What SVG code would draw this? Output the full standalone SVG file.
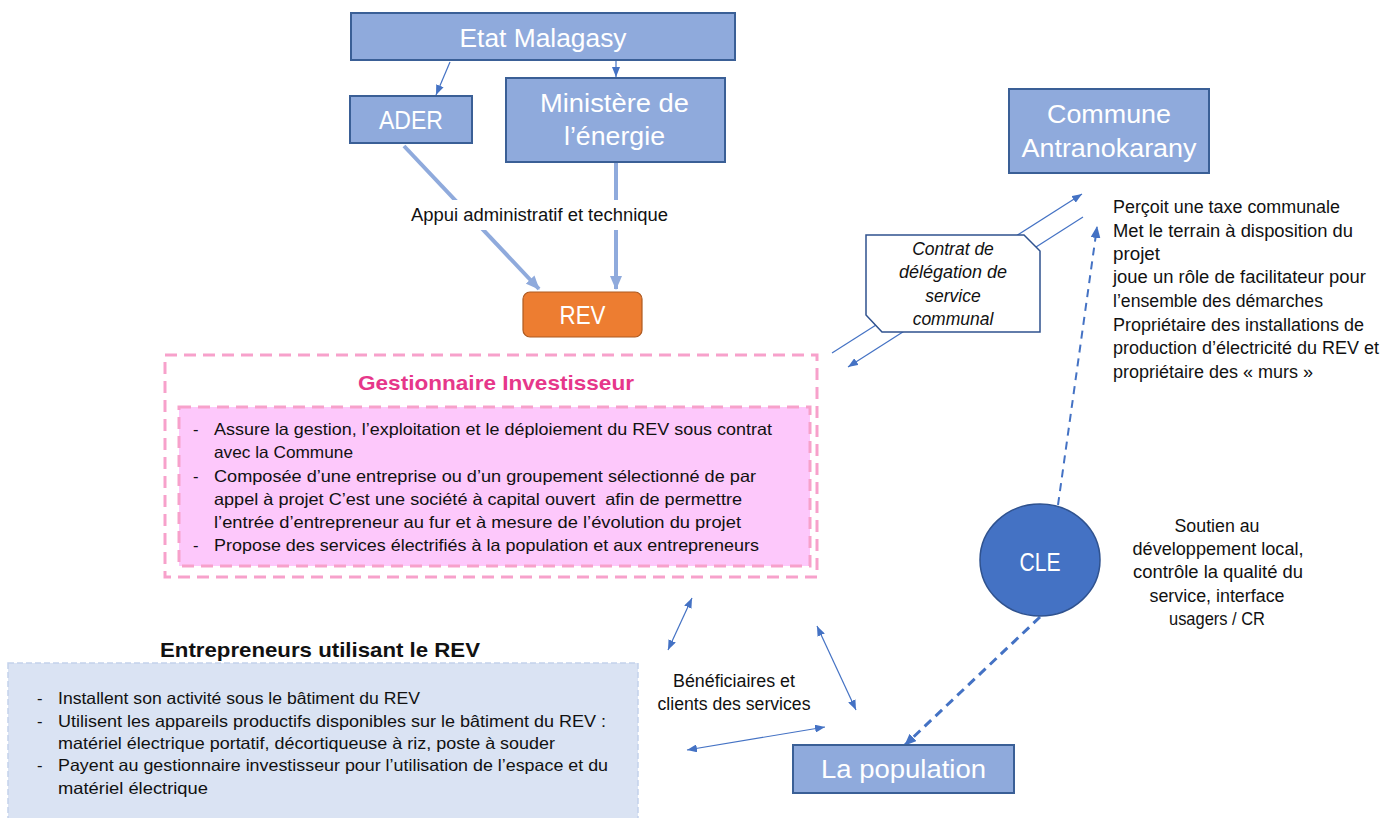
<svg xmlns="http://www.w3.org/2000/svg" width="1395" height="818" viewBox="0 0 1395 818">
<style>
text{font-family:"Liberation Sans",Arial,sans-serif;fill:#111}
.big{font-size:25px;fill:#fff;text-anchor:middle}
.box{fill:#8faadc;stroke:#3a5f96;stroke-width:2}
.body{font-size:16.5px}
.mid{font-size:17.5px}
.ctr{text-anchor:middle}
.thin{stroke:#4472c4;stroke-width:1.2;fill:none}
.thick{stroke:#8faadc;stroke-width:4;fill:none}
.pinkdash{stroke:#f7a1cb;stroke-width:3;stroke-dasharray:12 7}
</style>
<defs>
<marker id="aThin" viewBox="0 0 10 8" refX="10" refY="4" markerWidth="10" markerHeight="8" markerUnits="userSpaceOnUse" orient="auto-start-reverse">
<path d="M0,0 L10,4 L0,8 z" fill="#4472c4"/>
</marker>
<marker id="aThick" viewBox="0 0 14 12" refX="13" refY="6" markerWidth="14" markerHeight="12" markerUnits="userSpaceOnUse" orient="auto">
<path d="M0,0 L14,6 L0,12 z" fill="#8faadc"/>
</marker>
<marker id="aDash" viewBox="0 0 12 10" refX="11" refY="5" markerWidth="12" markerHeight="10" markerUnits="userSpaceOnUse" orient="auto">
<path d="M0,0 L12,5 L0,10 z" fill="#4472c4"/>
</marker>
</defs>

<g id="connectors">
<line class="thin" x1="450" y1="62" x2="436" y2="95" marker-end="url(#aThin)"/>
<line class="thin" x1="616" y1="61" x2="616" y2="77" marker-end="url(#aThin)"/>
<line class="thick" x1="404" y1="146" x2="539" y2="289" marker-end="url(#aThick)"/>
<line class="thick" x1="616" y1="162" x2="616" y2="289" marker-end="url(#aThick)"/>
<line class="thin" x1="832" y1="353" x2="1082" y2="194" marker-end="url(#aThin)"/>
<line class="thin" x1="1083" y1="217" x2="848" y2="367" marker-end="url(#aThin)"/>
<line x1="1058" y1="505" x2="1097" y2="227" stroke="#4472c4" stroke-width="2" stroke-dasharray="8 6" marker-end="url(#aDash)"/>
<line x1="1040" y1="617" x2="905" y2="745" stroke="#4472c4" stroke-width="3" stroke-dasharray="9 6" marker-end="url(#aDash)"/>
<line class="thin" x1="692" y1="598" x2="668" y2="650" marker-start="url(#aThin)" marker-end="url(#aThin)"/>
<line class="thin" x1="817" y1="626" x2="856" y2="710" marker-start="url(#aThin)" marker-end="url(#aThin)"/>
<line class="thin" x1="825" y1="727" x2="687" y2="750" marker-start="url(#aThin)" marker-end="url(#aThin)"/>
</g>

<g id="label-appui">
<rect x="405" y="200" width="268" height="30" fill="#fff"/>
<text class="mid ctr" x="539.5" y="221" textLength="257" lengthAdjust="spacingAndGlyphs">Appui administratif et technique</text>
</g>

<g id="etat">
<rect class="box" x="351" y="13" width="384" height="47"/>
<text class="big" x="543" y="47" textLength="167" lengthAdjust="spacingAndGlyphs">Etat Malagasy</text>
</g>

<g id="ader">
<rect class="box" x="350" y="96" width="122" height="47"/>
<text class="big" x="411" y="129" textLength="64" lengthAdjust="spacingAndGlyphs">ADER</text>
</g>

<g id="ministere">
<rect class="box" x="506" y="78" width="219" height="84"/>
<text class="big" x="614.5" y="112" textLength="149" lengthAdjust="spacingAndGlyphs">Ministère de</text>
<text class="big" x="614.5" y="145" textLength="101" lengthAdjust="spacingAndGlyphs">l’énergie</text>
</g>

<g id="rev">
<rect x="523" y="292" width="119" height="45" rx="7" fill="#ed7d31" stroke="#ae5a21" stroke-width="1.2"/>
<text class="big" x="582.5" y="324" textLength="46" lengthAdjust="spacingAndGlyphs">REV</text>
</g>

<g id="commune">
<rect class="box" x="1009" y="89" width="200" height="84"/>
<text class="big" x="1109" y="123" textLength="124" lengthAdjust="spacingAndGlyphs">Commune</text>
<text class="big" x="1109" y="157" textLength="175" lengthAdjust="spacingAndGlyphs">Antranokarany</text>
</g>

<g id="commune-roles" font-size="17.5">
<text x="1113" y="213" textLength="227" lengthAdjust="spacingAndGlyphs">Perçoit une taxe communale</text>
<text x="1113" y="237" textLength="240" lengthAdjust="spacingAndGlyphs">Met le terrain à disposition du</text>
<text x="1113" y="260" textLength="47" lengthAdjust="spacingAndGlyphs">projet</text>
<text x="1113" y="283" textLength="253" lengthAdjust="spacingAndGlyphs">joue un rôle de facilitateur pour</text>
<text x="1113" y="307" textLength="210" lengthAdjust="spacingAndGlyphs">l’ensemble des démarches</text>
<text x="1113" y="331" textLength="251" lengthAdjust="spacingAndGlyphs">Propriétaire des installations de</text>
<text x="1113" y="354" textLength="266" lengthAdjust="spacingAndGlyphs">production d’électricité du REV et</text>
<text x="1113" y="378" textLength="200" lengthAdjust="spacingAndGlyphs">propriétaire des « murs »</text>
</g>

<g id="contrat">
<path d="M866,235 L1024,235 L1040,251 L1040,332 L882,332 L866,315 Z" fill="#fff" stroke="#2f528f" stroke-width="1.5"/>
<g font-size="17.5" font-style="italic" text-anchor="middle">
<text x="953" y="255">Contrat de</text>
<text x="953" y="278" textLength="108" lengthAdjust="spacingAndGlyphs">délégation de</text>
<text x="953" y="302">service</text>
<text x="953" y="325">communal</text>
</g>
</g>

<g id="gestionnaire">
<rect x="165" y="355" width="652" height="222" fill="none" class="pinkdash"/>
<text x="496" y="390" text-anchor="middle" font-size="20.5" font-weight="bold" style="fill:#e6378a" textLength="276" lengthAdjust="spacingAndGlyphs">Gestionnaire Investisseur</text>
<rect x="179" y="407" width="631" height="159" fill="#fdc8fb" class="pinkdash"/>
<g class="body">
<text x="193" y="435">-</text>
<text x="214" y="435" textLength="558" lengthAdjust="spacingAndGlyphs">Assure la gestion, l’exploitation et le déploiement du REV sous contrat</text>
<text x="214" y="458" textLength="139" lengthAdjust="spacingAndGlyphs">avec la Commune</text>
<text x="193" y="482">-</text>
<text x="214" y="482" textLength="542" lengthAdjust="spacingAndGlyphs">Composée d’une entreprise ou d’un groupement sélectionné de par</text>
<text x="214" y="505" textLength="528" lengthAdjust="spacingAndGlyphs" xml:space="preserve">appel à projet C’est une société à capital ouvert  afin de permettre</text>
<text x="214" y="528" textLength="527" lengthAdjust="spacingAndGlyphs">l’entrée d’entrepreneur au fur et à mesure de l’évolution du projet</text>
<text x="193" y="551">-</text>
<text x="214" y="551" textLength="545" lengthAdjust="spacingAndGlyphs">Propose des services électrifiés à la population et aux entrepreneurs</text>
</g>
</g>

<g id="entrepreneurs">
<text x="160" y="657" font-size="20.5" font-weight="bold" textLength="320" lengthAdjust="spacingAndGlyphs">Entrepreneurs utilisant le REV</text>
<rect x="8" y="663" width="630" height="165" fill="#dae3f3" stroke="#c3d2ec" stroke-width="1.5" stroke-dasharray="6 3"/>
<g class="body">
<text x="37" y="704">-</text>
<text x="58" y="704" textLength="362" lengthAdjust="spacingAndGlyphs">Installent son activité sous le bâtiment du REV</text>
<text x="37" y="727">-</text>
<text x="58" y="727" textLength="548" lengthAdjust="spacingAndGlyphs">Utilisent les appareils productifs disponibles sur le bâtiment du REV :</text>
<text x="58" y="749" textLength="497" lengthAdjust="spacingAndGlyphs">matériel électrique portatif, décortiqueuse à riz, poste à souder</text>
<text x="37" y="771">-</text>
<text x="58" y="771" textLength="550" lengthAdjust="spacingAndGlyphs">Payent au gestionnaire investisseur pour l’utilisation de l’espace et du</text>
<text x="58" y="794" textLength="150" lengthAdjust="spacingAndGlyphs">matériel électrique</text>
</g>
</g>

<g id="beneficiaires" class="mid">
<text class="ctr" x="734" y="687" textLength="122" lengthAdjust="spacingAndGlyphs">Bénéficiaires et</text>
<text class="ctr" x="734" y="710" textLength="153" lengthAdjust="spacingAndGlyphs">clients des services</text>
</g>

<g id="population">
<rect class="box" x="793" y="745" width="221" height="48"/>
<text class="big" x="903.5" y="778" textLength="165" lengthAdjust="spacingAndGlyphs">La population</text>
</g>

<g id="cle">
<ellipse cx="1040" cy="560" rx="60" ry="56" fill="#4472c4" stroke="#2f528f" stroke-width="1.5"/>
<text class="big" x="1040" y="571" textLength="41" lengthAdjust="spacingAndGlyphs">CLE</text>
</g>

<g id="cle-roles" class="mid" text-anchor="middle">
<text x="1217" y="532" textLength="85" lengthAdjust="spacingAndGlyphs">Soutien au</text>
<text x="1218" y="555" textLength="171" lengthAdjust="spacingAndGlyphs">développement local,</text>
<text x="1218" y="578" textLength="170" lengthAdjust="spacingAndGlyphs">contrôle la qualité du</text>
<text x="1217" y="602" textLength="135" lengthAdjust="spacingAndGlyphs">service, interface</text>
<text x="1217" y="625" textLength="96" lengthAdjust="spacingAndGlyphs">usagers / CR</text>
</g>
</svg>
